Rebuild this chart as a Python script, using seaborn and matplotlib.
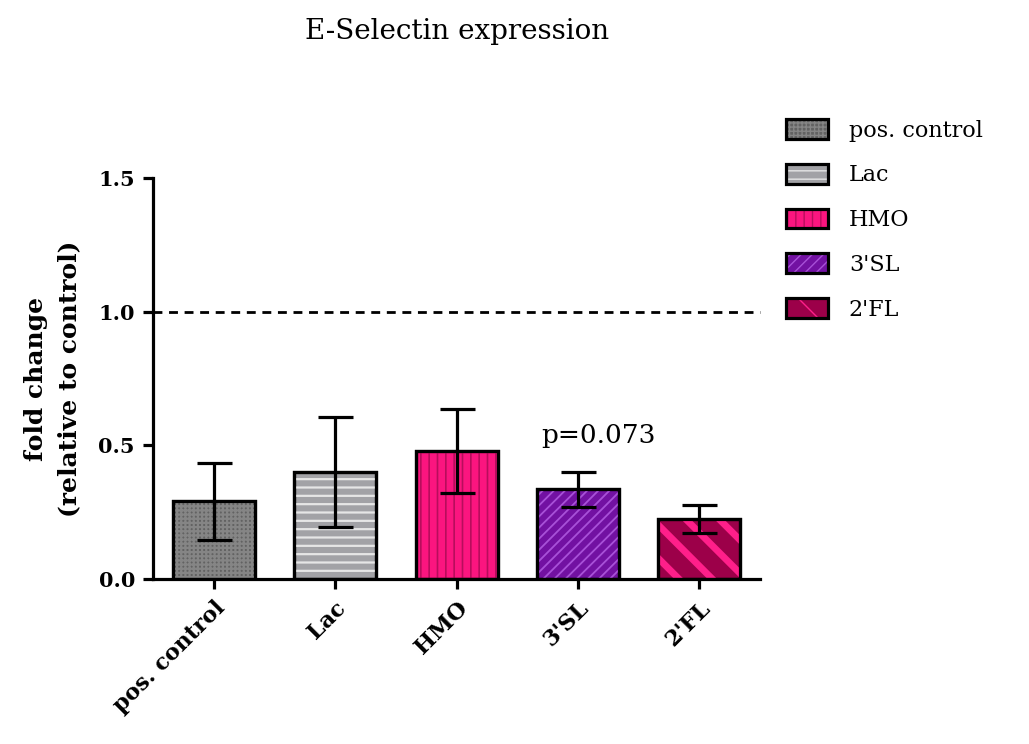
import matplotlib
matplotlib.use("Agg")
import matplotlib.pyplot as plt
from matplotlib.patches import Rectangle, Patch
import seaborn as sns
import pandas as pd

# Data
groups = ["pos. control", "Lac", "HMO", "3'SL", "2'FL"]
fold_change = [0.29, 0.40, 0.479, 0.335, 0.224]
sem = [0.145, 0.207, 0.157, 0.067, 0.053]
y_ticks = [0.0, 0.5, 1.0, 1.5]
p_label = "p=0.073"

# Styling per group: fill, hatch colour, hatch pattern, hatch width
fills = ["#626262", "#a2a2a6", "#fb157f", "#7211a2", "#9c0049"]
hatch_colors = ["#858585", "#e6e6e6", "#b80d5c", "#a851d8", "#ff1f8a"]
hatches = ["++++", "--", "||", "///", "\\"]
hatch_widths = [1.6, 1.6, 1.2, 1.3, 4.9]

sns.set_theme(style="ticks", rc={
    "text.color": "black", "axes.labelcolor": "black",
    "xtick.color": "black", "ytick.color": "black",
    "axes.edgecolor": "black",
})
plt.rcParams["font.family"] = ["DejaVu Serif"]

df = pd.DataFrame({"group": groups, "value": fold_change})

fig = plt.figure(figsize=(10.29, 7.44), dpi=100)
ax = fig.add_axes([0.1487, 0.2218, 0.59, 0.539])

sns.barplot(data=df, x="group", y="value", hue="group", palette=fills,
            order=groups, hue_order=groups, dodge=False, legend=False,
            errorbar=None, width=0.675, edgecolor="black", linewidth=2.3,
            saturation=1, ax=ax)

bars = [p for p in ax.patches if isinstance(p, Rectangle)]
for bar, hc, h, hw in zip(bars, hatch_colors, hatches, hatch_widths):
    with plt.rc_context({"hatch.linewidth": hw}):
        overlay = Rectangle(bar.get_xy(), bar.get_width(), bar.get_height(),
                            facecolor="none", edgecolor=hc, hatch=h,
                            linewidth=0, zorder=bar.get_zorder() + 0.1)
    ax.add_patch(overlay)
    border = Rectangle(bar.get_xy(), bar.get_width(), bar.get_height(),
                       facecolor="none", edgecolor="black", linewidth=2.3,
                       zorder=bar.get_zorder() + 0.2)
    ax.add_patch(border)

ax.errorbar(range(len(groups)), fold_change, yerr=sem, fmt="none",
            ecolor="black", elinewidth=2.3, capsize=12.6, capthick=2.3,
            zorder=5)

ax.axhline(1.0, color="black", linestyle=(0, (3.2, 2.4)), linewidth=2.0,
           zorder=1, clip_on=False)

ax.text(3.17, 0.535, p_label, ha="center", va="center", fontsize=19)

ax.set_xlim(-0.5, 4.5)
ax.set_ylim(0, 1.5)
ax.set_yticks(y_ticks)
ax.set_yticklabels([f"{t:.1f}" for t in y_ticks], fontweight="bold",
                   fontsize=15)
ax.set_xticks(range(len(groups)))
ax.set_xticklabels(groups, rotation=45, ha="right", rotation_mode="anchor",
                   fontweight="bold", fontsize=16)
ax.set_xlabel("")
ax.set_ylabel("fold change\n(relative to control)", fontweight="bold",
              fontsize=18, labelpad=12, linespacing=1.5)

sns.despine(ax=ax)
for side in ("left", "bottom"):
    ax.spines[side].set_linewidth(2.3)
ax.tick_params(axis="both", length=7, width=2.3, direction="out", pad=6)

fig.text(0.4437, 0.958, "E-Selectin expression", ha="center", va="center",
         fontsize=20)

handles = []
for fc, hc, h, hw in zip(fills, hatch_colors, hatches, hatch_widths):
    with plt.rc_context({"hatch.linewidth": hw}):
        base = Patch(facecolor=fc, edgecolor=hc, hatch=h, linewidth=0)
    frame = Patch(facecolor="none", edgecolor="black", linewidth=2.3)
    handles.append((base, frame))

fig.legend(handles, groups, loc="upper left", bbox_to_anchor=(0.744, 0.867),
           frameon=False, fontsize=16, handlelength=1.9, handleheight=1.0,
           labelspacing=1.0, handletextpad=0.95)

fig.savefig("out.png", dpi=100)
